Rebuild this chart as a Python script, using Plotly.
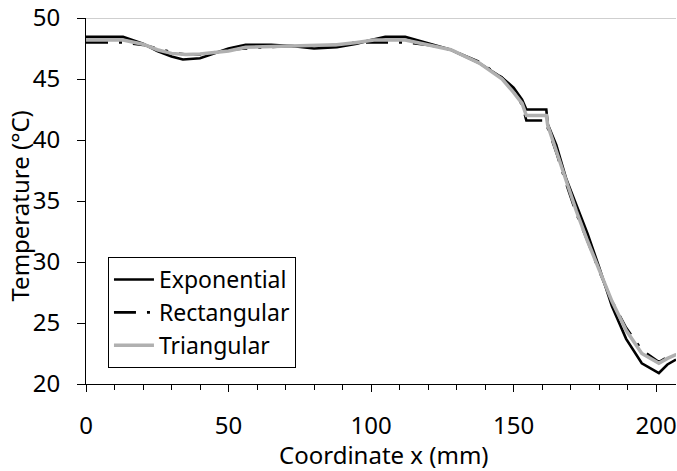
import plotly.graph_objects as go

# Exponential
x_exp = [0, 13, 20, 25, 30, 34, 40, 45, 50, 56, 65, 72, 80, 88, 95, 100, 105, 112, 120, 128, 138, 146, 150, 153, 154.5, 161.5, 162, 165, 168.5, 173, 176, 180, 184.5, 189.5, 195, 201, 204, 207]
y_exp = [48.45, 48.45, 47.9, 47.3, 46.85, 46.6, 46.7, 47.1, 47.5, 47.8, 47.8, 47.7, 47.5, 47.6, 47.9, 48.2, 48.45, 48.45, 47.9, 47.4, 46.3, 45.1, 44.3, 43.3, 42.5, 42.5, 41.3, 39.6, 36.8, 34.0, 32.3, 29.6, 26.4, 23.7, 21.7, 20.9, 21.6, 22.0]

# Rectangular
x_rect = [0, 13, 20, 25, 30, 35, 40, 45, 50, 56, 65, 72, 80, 88, 95, 100, 101, 112, 120, 128, 138, 146, 150, 153, 154.5, 161.5, 162, 165, 168.5, 172, 176, 180, 184.5, 189.5, 195, 197.5, 201, 204, 207]
y_rect = [48.0, 48.0, 47.8, 47.5, 47.2, 47.0, 47.0, 47.2, 47.4, 47.5, 47.6, 47.7, 47.7, 47.8, 48.0, 48.0, 48.0, 48.0, 47.8, 47.4, 46.4, 45.1, 44.0, 42.9, 41.6, 41.6, 41.0, 39.0, 36.4, 34.0, 31.7, 29.3, 26.8, 24.6, 22.8, 22.4, 21.8, 22.2, 22.4]

# Triangular
x_tri = [0, 13, 20, 25, 30, 35, 40, 45, 50, 56, 65, 72, 80, 88, 95, 100, 101, 112, 120, 128, 138, 146, 150, 153, 154.5, 161.5, 162, 165, 168.5, 172, 176, 180, 184.5, 189.5, 195, 201, 204, 207]
y_tri = [48.2, 48.2, 47.85, 47.4, 47.1, 47.0, 47.05, 47.2, 47.3, 47.6, 47.65, 47.7, 47.7, 47.8, 48.0, 48.2, 48.2, 48.2, 47.8, 47.4, 46.3, 45.0, 43.9, 43.0, 42.0, 42.0, 41.2, 39.1, 36.5, 34.2, 31.7, 29.4, 26.8, 24.4, 22.5, 21.7, 22.1, 22.4]

names = ["Exponential", "Rectangular", "Triangular"]
x_title = "Coordinate x (mm)"
y_title = "Temperature (°C)"

FONT = "Noto Sans"

fig = go.Figure()
fig.add_trace(go.Scatter(x=x_exp, y=y_exp, mode="lines", name=names[0],
                         line=dict(color="black", width=2.6)))
fig.add_trace(go.Scatter(x=x_rect, y=y_rect, mode="lines", name=names[1],
                         line=dict(color="black", width=2.6, dash="22px,11px,3px,11px")))
fig.add_trace(go.Scatter(x=x_tri, y=y_tri, mode="lines", name=names[2],
                         line=dict(color="#b0b0b0", width=3.5)))

fig.add_shape(type="line", xref="paper", yref="y", x0=0, x1=1, y0=50, y1=50,
              line=dict(color="#a0a0a0", width=1))

fig.add_annotation(text=x_title, xref="paper", yref="paper",
                   x=(385 - 86) / 591, y=(384 - 455) / 369,
                   xanchor="center", yanchor="middle", showarrow=False,
                   font=dict(family=FONT, size=24, color="black"))
fig.add_annotation(text=y_title, xref="paper", yref="paper",
                   x=(19 - 86) / 591, y=(384 - 205) / 369, textangle=-90,
                   xanchor="center", yanchor="middle", showarrow=False,
                   font=dict(family=FONT, size=24, color="black"))

fig.update_layout(
    width=677, height=471,
    margin=dict(l=86, r=0, t=15, b=87),
    plot_bgcolor="white", paper_bgcolor="white",
    font=dict(family=FONT, size=24, color="black"),
    showlegend=True,
    legend=dict(x=(108 - 86) / 591, y=(384 - 256) / 369, xanchor="left", yanchor="top",
                bgcolor="white", bordercolor="black", borderwidth=1,
                font=dict(family=FONT, size=23), itemwidth=40,
                tracegroupgap=0),
    xaxis=dict(range=[0, 207], tickvals=[0, 50, 100, 150, 200],
               ticks="outside", ticklen=7, tickcolor="black",
               minor=dict(dtick=10, tick0=0, ticks="outside", ticklen=5, tickcolor="black"),
               showline=True, linecolor="black", linewidth=1, showgrid=False, zeroline=False,
               tickfont=dict(family=FONT, size=24), ticklabelstandoff=13,
               ticklabeloverflow="allow"),
    yaxis=dict(range=[20, 50], tickvals=[20, 25, 30, 35, 40, 45, 50],
               ticks="outside", ticklen=8, tickcolor="black",
               showline=True, linecolor="black", linewidth=1, showgrid=False, zeroline=False,
               tickfont=dict(family=FONT, size=24), ticklabelstandoff=12,
               ticklabeloverflow="allow"),
)

fig.write_html("out.html")
